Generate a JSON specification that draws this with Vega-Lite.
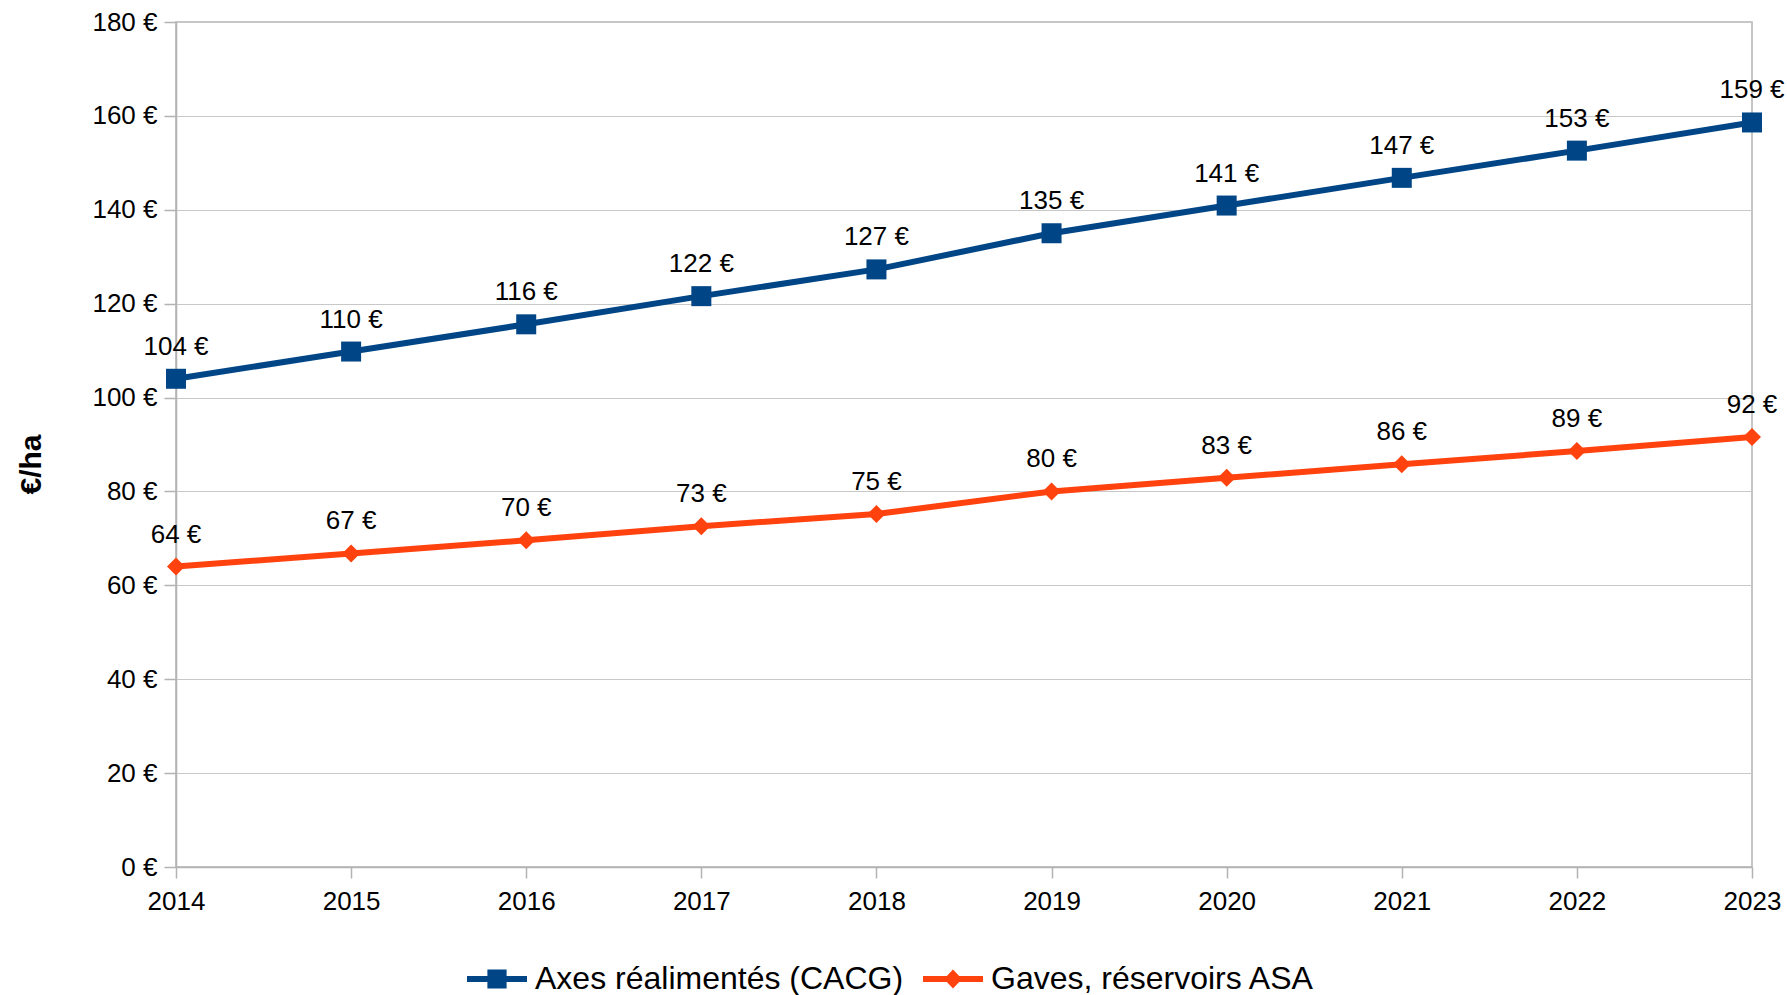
{
  "$schema": "https://vega.github.io/schema/vega-lite/v6.json",
  "width": 1576,
  "height": 845,
  "autosize": {"type": "none"},
  "padding": {"left": 176, "top": 22, "right": 35, "bottom": 128},
  "background": "white",
  "config": {
    "locale": {"number": {"decimal": ",", "thousands": " ", "grouping": [3], "currency": ["", " €"]}},
    "font": "Liberation Sans",
    "view": {"stroke": "#b3b3b3", "strokeWidth": 1.5},
    "axis": {"labelFont": "Liberation Sans", "labelColor": "black", "titleColor": "black", "domainColor": "#b3b3b3", "tickColor": "#b3b3b3", "gridColor": "#c8c8c8", "domainWidth": 1.5, "tickWidth": 1.5, "gridWidth": 1.2}
  },
  "data": {
    "values": [
      {"year": 2014, "series": "Axes réalimentés (CACG)", "value": 104},
      {"year": 2015, "series": "Axes réalimentés (CACG)", "value": 109.8},
      {"year": 2016, "series": "Axes réalimentés (CACG)", "value": 115.6},
      {"year": 2017, "series": "Axes réalimentés (CACG)", "value": 121.6},
      {"year": 2018, "series": "Axes réalimentés (CACG)", "value": 127.3},
      {"year": 2019, "series": "Axes réalimentés (CACG)", "value": 135},
      {"year": 2020, "series": "Axes réalimentés (CACG)", "value": 140.9},
      {"year": 2021, "series": "Axes réalimentés (CACG)", "value": 146.8},
      {"year": 2022, "series": "Axes réalimentés (CACG)", "value": 152.6},
      {"year": 2023, "series": "Axes réalimentés (CACG)", "value": 158.6},
      {"year": 2014, "series": "Gaves, réservoirs ASA", "value": 64},
      {"year": 2015, "series": "Gaves, réservoirs ASA", "value": 66.8},
      {"year": 2016, "series": "Gaves, réservoirs ASA", "value": 69.6},
      {"year": 2017, "series": "Gaves, réservoirs ASA", "value": 72.6},
      {"year": 2018, "series": "Gaves, réservoirs ASA", "value": 75.2},
      {"year": 2019, "series": "Gaves, réservoirs ASA", "value": 80},
      {"year": 2020, "series": "Gaves, réservoirs ASA", "value": 82.9},
      {"year": 2021, "series": "Gaves, réservoirs ASA", "value": 85.8},
      {"year": 2022, "series": "Gaves, réservoirs ASA", "value": 88.6},
      {"year": 2023, "series": "Gaves, réservoirs ASA", "value": 91.6}
    ]
  },
  "encoding": {
    "x": {
      "field": "year", "type": "quantitative",
      "scale": {"domain": [2014, 2023], "nice": false, "zero": false},
      "axis": {"title": null, "values": [2014, 2015, 2016, 2017, 2018, 2019, 2020, 2021, 2022, 2023], "format": "d", "grid": false, "labelFontSize": 26, "tickSize": 11, "labelPadding": 10, "labelFlush": false}
    },
    "y": {
      "field": "value", "type": "quantitative",
      "scale": {"domain": [0, 180], "nice": false},
      "axis": {"title": "€/ha", "titleFontSize": 30, "titleFontWeight": "bold", "titleX": -130, "titleY": 442, "values": [0, 20, 40, 60, 80, 100, 120, 140, 160, 180], "format": "$.0f", "grid": true, "labelFontSize": 26, "tickSize": 12, "labelPadding": 7}
    },
    "color": {
      "field": "series", "type": "nominal",
      "scale": {"domain": ["Axes réalimentés (CACG)", "Gaves, réservoirs ASA"], "range": ["#004586", "#ff420e"]},
      "legend": {
        "title": null, "orient": "none", "legendX": 291, "legendY": 927, "direction": "horizontal",
        "symbolSize": 3600, "symbolStrokeWidth": 0, "symbolOpacity": 1,
        "labelFontSize": 32, "labelFont": "Liberation Sans", "labelColor": "black", "labelOffset": 8, "columnPadding": 19, "labelLimit": 0,
        "encode": {"symbols": {"update": {
          "shape": {"signal": "datum.value === 'Axes réalimentés (CACG)' ? 'M-1,-0.1H1V0.1H-1Z M-0.32,-0.32H0.32V0.32H-0.32Z' : 'M-1,-0.1H1V0.1H-1Z M-0.3,0L0,-0.32L0.3,0L0,0.32Z'"},
          "fill": {"scale": "color", "field": "value"},
          "stroke": {"value": "transparent"}
        }}}
      }
    }
  },
  "layer": [
    {"mark": {"type": "line", "strokeWidth": 6}},
    {"transform": [{"filter": "datum.series === 'Axes réalimentés (CACG)'"}], "mark": {"type": "point", "shape": "square", "size": 400, "filled": true, "opacity": 1}},
    {"transform": [{"filter": "datum.series === 'Gaves, réservoirs ASA'"}], "mark": {"type": "point", "shape": "diamond", "size": 324, "filled": true, "opacity": 1}},
    {"mark": {"type": "text", "dy": -24, "baseline": "alphabetic", "fontSize": 26, "font": "Liberation Sans"}, "encoding": {"text": {"field": "value", "type": "quantitative", "format": "$.0f"}, "color": {"value": "black"}}}
  ]
}
